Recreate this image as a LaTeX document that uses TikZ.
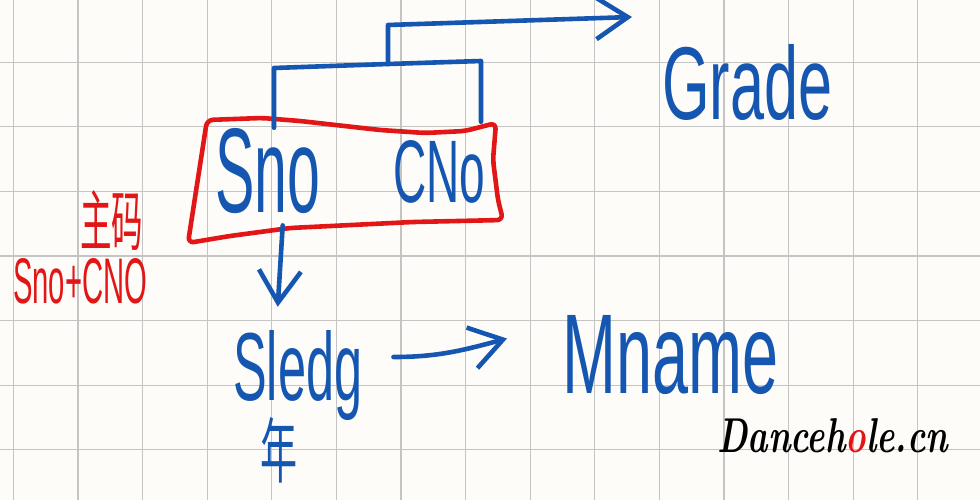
\documentclass[tikz,border=0pt]{standalone}
\usepackage{fontspec}
\usepackage{graphicx}
\usepackage{xcolor}
\usetikzlibrary{arrows.meta,calc}
\newfontfamily\handfont{Liberation Sans}
\newfontfamily\cjk{Noto Sans CJK SC}
\definecolor{penblue}{RGB}{21,86,176}
\definecolor{penred}{RGB}{226,22,22}
\definecolor{gridgray}{RGB}{196,196,196}
\definecolor{paper}{RGB}{253,252,249}
\newcommand{\hw}[3]{\resizebox{#1pt}{#2pt}{#3}}
\tikzset{
  pen/.style={line width=4.6pt,penblue,line cap=round,line join=round},
  redpen/.style={line width=4.6pt,penred,line cap=round,line join=round},
  barb/.style={-{Straight Barb[length=32pt,width=42pt]}},
  hand/.style={inner sep=0pt,anchor=base west,text=penblue,font=\handfont},
  redhand/.style={hand,text=penred},
  gridline/.style={gridgray,line width=1.2pt}
}

\begin{document}
\begin{tikzpicture}[x=1pt,y=-1pt]
\fill[paper] (0,0) rectangle (980,500);
\useasboundingbox (0,0) rectangle (980,500);
\foreach \i in {0,...,14} \draw[gridline] (13.3+64.6*\i,0) -- (13.3+64.6*\i,500);
\foreach \j in {1,...,7} \draw[gridline] (0,-2.4+64.6*\j) -- (980,-2.4+64.6*\j);

% attributes
\node[hand] (sno) at (215,212) {\hw{105}{84}{Sno}};
\node[hand] (cno) at (393,202) {\hw{92}{62}{CNo}};
\node[hand] (grade) at (662,120) {\hw{170}{75}{Grade}};
\node[hand] (sledg) at (233,400) {\hw{129}{70}{Sledg}};
\node[hand] (mname) at (562,393) {\hw{216}{78}{Mname}};
\node[hand] (nian) at (260,477) {\hw{37}{60}{\cjk 年}};
\node[redhand] (key) at (80,245) {\hw{63}{55}{\cjk 主码}};
\node[redhand] (keytext) at (13,303) {\hw{134}{45}{Sno+CNO}};
\node[inner sep=0pt,anchor=base west,font=\bfseries\itshape] (logo) at (717,452)
  {\hw{231}{34}{Danceh{\color{penred}o}le.cn}};

% key box
\draw[redpen,rounded corners=6pt] (207,120) -- (262,118) -- (300,121) -- (380,130) -- (425,133)
  -- (465,131) -- (496,123) -- (493,160) -- (498,200) -- (503,220) -- (413,222) -- (290,228)
  -- (230,236) -- (188,243) -- cycle;

% dependencies
\coordinate (brL) at (274,68);
\coordinate (brM) at (388,64);
\coordinate (brR) at (481,61);
\coordinate (up) at (388,25);
\coordinate (gtip) at (632,17);
\draw[pen,shorten >=18pt] (sno.north -| brL) -- (brL) -- (brM) -- (brR) -- (cno.north -| brR);
\draw[pen,barb] (brM) -- (up) -- (gtip);
\draw[pen,barb] ([xshift=15pt,yshift=-12pt]sno.south) -- ([xshift=-20pt,yshift=23pt]sledg.north);
\draw[pen,barb] ([xshift=31pt,yshift=18pt]sledg.east) to[out=0,in=195] ([xshift=-55pt,yshift=16pt]mname.west);
\end{tikzpicture}
\end{document}
